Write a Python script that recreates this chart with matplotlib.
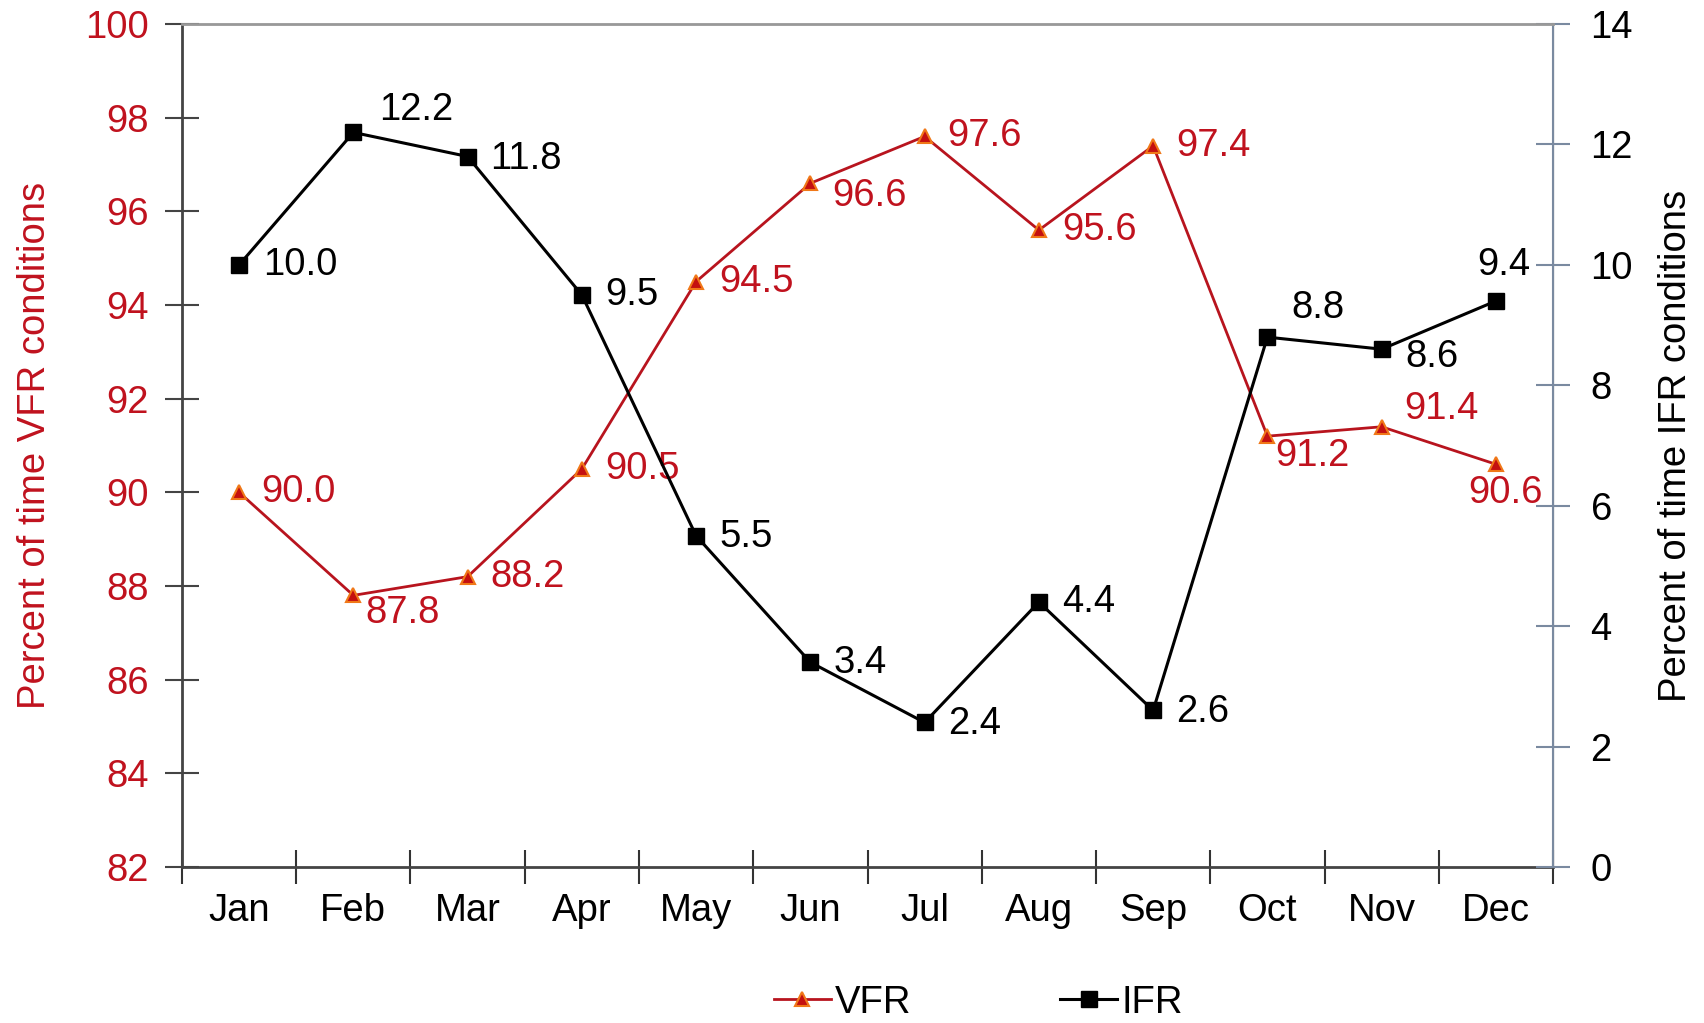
import matplotlib
matplotlib.use("Agg")
import matplotlib.pyplot as plt
import numpy as np

plt.rcParams["font.family"] = ["Liberation Sans", "DejaVu Sans"]

months = ["Jan", "Feb", "Mar", "Apr", "May", "Jun", "Jul", "Aug", "Sep", "Oct", "Nov", "Dec"]
vfr = [90.0, 87.8, 88.2, 90.5, 94.5, 96.6, 97.6, 95.6, 97.4, 91.2, 91.4, 90.6]
ifr = [10.0, 12.2, 11.8, 9.5, 5.5, 3.4, 2.4, 4.4, 2.6, 8.8, 8.6, 9.4]

# label offsets in pixels (dx, dy, ha)
vfr_offsets = [(22, 0, "left"), (12, -18, "left"), (23, 0, "left"), (23, 0, "left"),
               (23, 0, "left"), (22, -13, "left"), (23, 0, "left"), (23, 0, "left"),
               (23, 0, "left"), (8, -20, "left"), (23, 18, "left"), (10, -29, "center")]
ifr_offsets = [(24, 0, "left"), (26, 22, "left"), (23, -2, "left"), (23, 0, "left"),
               (23, -1, "left"), (23, -1, "left"), (23, -2, "left"), (23, 0, "left"),
               (23, -2, "left"), (24, 29, "left"), (24, -8, "left"), (8, 36, "center")]

red = "#c0121e"
fs = 27.5
x = np.arange(len(months))

fig, ax = plt.subplots(figsize=(17.04, 10.23), dpi=100)
fig.subplots_adjust(left=0.1068, right=0.9114, top=0.9765, bottom=0.1525)
ax2 = ax.twinx()

l1, = ax.plot(x, vfr, color="#b8141e", linewidth=2, marker="^", markersize=10,
              markerfacecolor="#c41010", markeredgecolor="#f07818", markeredgewidth=1.5,
              label="VFR", zorder=3)
l2, = ax2.plot(x, ifr, color="black", linewidth=2.2, marker="s", markersize=11,
               markerfacecolor="black", label="IFR", zorder=3)

for xi, v, (dx, dy, ha) in zip(x, vfr, vfr_offsets):
    ax.annotate(f"{v:.1f}", (xi, v), xytext=(dx, dy), textcoords="offset pixels",
                ha=ha, va="center", fontsize=fs, color=red)
for xi, v, (dx, dy, ha) in zip(x, ifr, ifr_offsets):
    ax2.annotate(f"{v:.1f}", (xi, v), xytext=(dx, dy), textcoords="offset pixels",
                 ha=ha, va="center", fontsize=fs, color="black")

ax.set_xlim(-0.5, 11.5)
ax.set_ylim(82, 100)
ax.set_yticks(np.arange(82, 101, 2))
ax2.set_ylim(0, 14)
ax2.set_yticks(np.arange(0, 15, 2))

ax.set_xticks(x)
ax.set_xticklabels(months, fontsize=fs)
ax.set_xticks(np.arange(-0.5, 12, 1), minor=True)
ax.tick_params(axis="x", which="major", length=0, pad=19)
ax.tick_params(axis="x", which="minor", length=24, direction="inout", color="#333333", width=1.5)
ax.tick_params(axis="y", length=24, direction="inout", labelsize=fs, labelcolor=red,
               color="#444444", width=1.5, pad=12)
ax2.tick_params(axis="y", length=24, direction="inout", labelsize=fs, color="#7a8aa0",
                width=1.5, pad=15)

for sp in ["left", "bottom"]:
    ax.spines[sp].set_color("#444444")
    ax.spines[sp].set_linewidth(2)
ax2.spines["top"].set_color("#999999")
ax2.spines["top"].set_linewidth(2)
ax2.spines["right"].set_color("#7a8aa0")
ax2.spines["right"].set_linewidth(1.5)
ax2.spines["left"].set_visible(False)
ax2.spines["bottom"].set_visible(False)

ax.set_ylabel("Percent of time VFR conditions", fontsize=fs, color=red, labelpad=23)
ax2.set_ylabel("Percent of time IFR conditions", fontsize=fs, color="black", labelpad=18)

fig.legend(handles=[l1, l2], loc="center", bbox_to_anchor=(0.574, 0.02), ncol=2,
           frameon=False, fontsize=fs, handlelength=1.5, handletextpad=0.1,
           columnspacing=3.9, numpoints=1)

fig.savefig("out.png", dpi=100)
